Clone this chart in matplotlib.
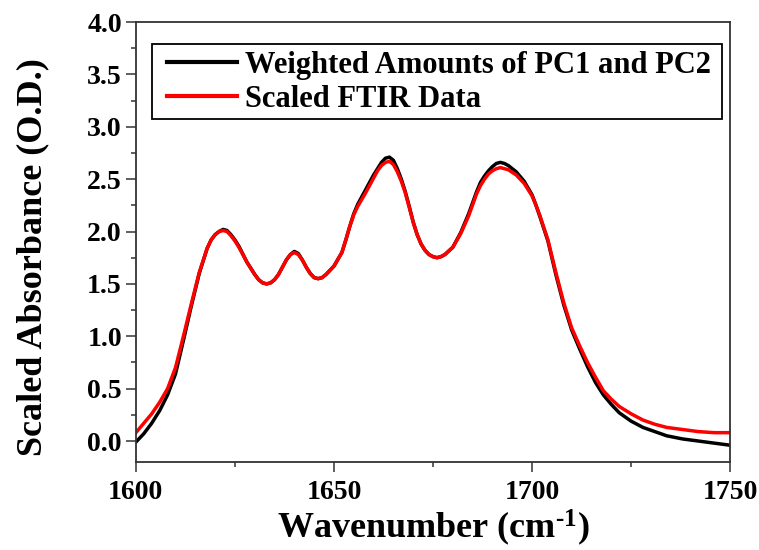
import numpy as np
import matplotlib.pyplot as plt
from matplotlib.patches import Rectangle

# wavenumber grid (cm^-1), denser around peaks and dips
wavenumber = [1600, 1602, 1604, 1606, 1608, 1610, 1612, 1614, 1616, 1618,
              1619, 1620, 1621, 1622, 1623, 1624, 1625, 1626, 1628, 1630,
              1631, 1632, 1633, 1634, 1635, 1636, 1637, 1638, 1639, 1640,
              1641, 1642, 1643, 1644, 1645, 1646, 1647, 1648, 1650, 1652,
              1653, 1654, 1655, 1656, 1658, 1660, 1661, 1662, 1663, 1664,
              1665, 1666, 1667, 1668, 1669, 1670, 1671, 1672, 1673, 1674,
              1675, 1676, 1677, 1678, 1680, 1682, 1684, 1686, 1687, 1688,
              1689, 1690, 1691, 1692, 1693, 1694, 1696, 1698, 1700, 1701,
              1702, 1704, 1706, 1708, 1710, 1712, 1714, 1716, 1718, 1720,
              1722, 1725, 1728, 1731, 1734, 1738, 1742, 1746, 1750]

# scaled FTIR spectrum
ftir = [0.08, 0.17, 0.26, 0.37, 0.50, 0.70, 1.00, 1.31, 1.61, 1.84,
        1.92, 1.97, 2.00, 2.01, 2.00, 1.96, 1.91, 1.85, 1.71, 1.59,
        1.54, 1.51, 1.50, 1.51, 1.54, 1.59, 1.66, 1.73, 1.78, 1.80,
        1.78, 1.73, 1.66, 1.60, 1.56, 1.55, 1.56, 1.59, 1.67, 1.80,
        1.92, 2.05, 2.16, 2.24, 2.37, 2.51, 2.58, 2.63, 2.66, 2.67,
        2.64, 2.57, 2.48, 2.37, 2.23, 2.09, 1.97, 1.88, 1.82, 1.78,
        1.76, 1.75, 1.76, 1.78, 1.85, 1.98, 2.15, 2.36, 2.44, 2.50,
        2.55, 2.58, 2.60, 2.61, 2.60, 2.59, 2.54, 2.46, 2.34, 2.25,
        2.15, 1.92, 1.61, 1.32, 1.08, 0.91, 0.75, 0.61, 0.48, 0.40,
        0.33, 0.26, 0.20, 0.16, 0.13, 0.11, 0.09, 0.08, 0.08]

# weighted sum of PC1 and PC2
pc_fit = [-0.01, 0.07, 0.17, 0.29, 0.44, 0.64, 0.96, 1.29, 1.60, 1.84,
          1.92, 1.97, 2.00, 2.02, 2.01, 1.97, 1.92, 1.86, 1.71, 1.59,
          1.54, 1.51, 1.50, 1.51, 1.54, 1.59, 1.66, 1.73, 1.78, 1.81,
          1.79, 1.73, 1.66, 1.60, 1.56, 1.55, 1.56, 1.59, 1.67, 1.80,
          1.92, 2.05, 2.17, 2.26, 2.40, 2.54, 2.60, 2.66, 2.70, 2.71,
          2.68, 2.60, 2.50, 2.38, 2.24, 2.09, 1.97, 1.88, 1.82, 1.78,
          1.76, 1.75, 1.76, 1.78, 1.85, 1.99, 2.17, 2.38, 2.47, 2.53,
          2.58, 2.62, 2.65, 2.66, 2.65, 2.63, 2.57, 2.48, 2.35, 2.25,
          2.14, 1.91, 1.59, 1.30, 1.06, 0.88, 0.71, 0.56, 0.44, 0.35,
          0.27, 0.19, 0.13, 0.09, 0.05, 0.02, 0.00, -0.02, -0.04]

plt.rcParams['font.family'] = ['Liberation Serif', 'DejaVu Serif']
plt.rcParams['font.weight'] = 'bold'
plt.rcParams['mathtext.fontset'] = 'custom'
plt.rcParams['mathtext.rm'] = 'Liberation Serif:bold'
plt.rcParams['mathtext.default'] = 'rm'

fig = plt.figure(figsize=(7.59, 5.5), dpi=100)
ax = fig.add_axes([0.179, 0.16, 0.783, 0.80])

ax.plot(wavenumber, pc_fit, color='black', lw=2.5, solid_joinstyle='round',
        label='Weighted Amounts of PC1 and PC2')
ax.plot(wavenumber, ftir, color='#ff0000', lw=2.5, solid_joinstyle='round',
        label='Scaled FTIR Data')

ax.set_xlim(1600, 1750)
ax.set_ylim(-0.2, 4.0)
ax.set_xticks([1600, 1650, 1700, 1750])
ax.set_xticks([1625, 1675, 1725], minor=True)
ax.set_yticks(np.arange(0, 4.01, 0.5))
ax.set_yticks(np.arange(0.25, 4.0, 0.5), minor=True)
ax.yaxis.set_major_formatter(plt.FormatStrFormatter('%.1f'))

for s in ax.spines.values():
    s.set_color('#333333')
    s.set_linewidth(1.3)
ax.tick_params(which='both', direction='out', top=False, right=False,
               color='#333333', width=1.1)
ax.tick_params(which='major', length=7, labelsize=20)
ax.tick_params(which='minor', length=3.5)
ax.tick_params(axis='x', which='major', pad=6)
ax.tick_params(axis='y', which='major', pad=3)
for lbl in ax.get_xticklabels() + ax.get_yticklabels():
    lbl.set_fontweight('bold')

ax.set_xlabel(r'Wavenumber (cm$^{\text{-}1}$)', fontsize=26, fontweight='bold', labelpad=2)
ax.set_ylabel('Scaled Absorbance (O.D.)', fontsize=26, fontweight='bold')
ax.yaxis.set_label_coords(-0.145, 0.466)

# legend box drawn separately so it can be wider than the entries
ax.add_patch(Rectangle((0.027, 0.78), 0.96, 0.17, transform=ax.transAxes,
                       facecolor='white', edgecolor='black', lw=1.3, zorder=4))
leg = ax.legend(loc='upper left', bbox_to_anchor=(0.052, 0.934), fontsize=22,
                frameon=False, handlelength=2.3, handletextpad=0.25,
                borderpad=0, labelspacing=0.15, borderaxespad=0)
leg.set_zorder(5)
for line in leg.get_lines():
    line.set_linewidth(3)

fig.savefig('out.png', dpi=100)
